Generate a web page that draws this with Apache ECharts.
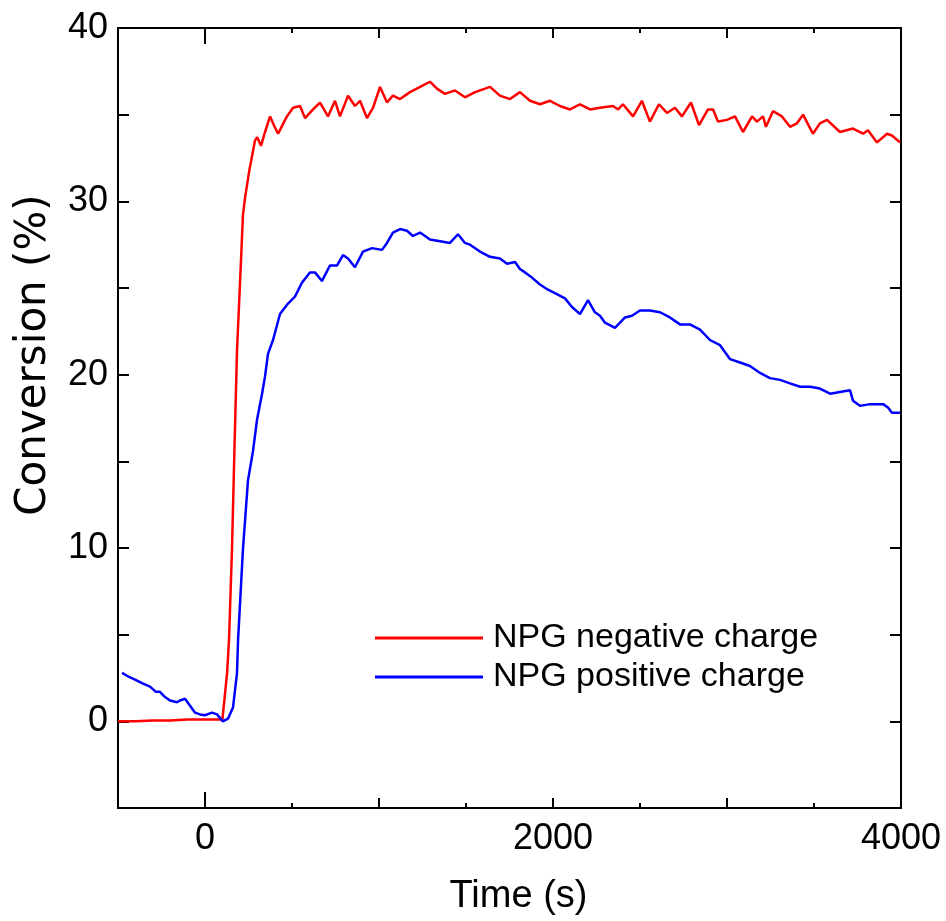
<!DOCTYPE html>
<html>
<head>
<meta charset="utf-8">
<script src="https://cdn.jsdelivr.net/npm/echarts@6/dist/echarts.min.js"></script>
<style>html,body{margin:0;padding:0;background:#fff}#c{width:946px;height:921px}</style>
</head>
<body>
<div id="c"></div>
<script>
const seriesNames = ['NPG negative charge', 'NPG positive charge'];
const xLabelValues = [0, 2000, 4000];
const yLabelValues = [0, 10, 20, 30, 40];

const negTime = [-500,-400,-300,-200,-100,0,100,110,127,138,155,170,184,207,218,230,255,276,287,300,322,345,374,400,420,450,471,506,546,575,621,661,707,747,776,822,862,891,931,966,1006,1046,1080,1121,1178,1236,1293,1333,1379,1437,1494,1552,1638,1695,1753,1810,1868,1925,1983,2040,2098,2155,2213,2270,2345,2374,2402,2460,2511,2557,2609,2655,2701,2741,2793,2839,2891,2920,2948,3000,3046,3092,3144,3172,3207,3224,3264,3316,3362,3402,3437,3494,3534,3575,3649,3724,3782,3810,3862,3920,3948,3994];
const negConv = [0.0,0.0,0.05,0.05,0.1,0.1,0.1,0.15,2.8,4.7,9.9,16,21.4,26.6,29.2,30.2,31.8,32.9,33.5,33.7,33.2,34.0,34.9,34.3,33.9,34.5,34.9,35.4,35.5,34.8,35.3,35.7,34.9,35.8,34.9,36.1,35.5,35.8,34.8,35.4,36.6,35.7,36.1,35.9,36.3,36.6,36.9,36.5,36.2,36.4,36.0,36.3,36.6,36.1,35.9,36.3,35.8,35.6,35.8,35.5,35.3,35.6,35.3,35.4,35.5,35.3,35.6,34.9,35.8,34.6,35.6,35.1,35.4,34.9,35.7,34.4,35.3,35.3,34.6,34.7,34.9,34.0,34.9,34.6,34.9,34.3,35.2,34.9,34.3,34.5,35.0,33.9,34.5,34.7,34.0,34.2,33.9,34.1,33.4,33.9,33.8,33.4];

const posTime = [-477,-443,-402,-362,-316,-282,-259,-230,-201,-161,-144,-115,-86,-57,-29,0,40,69,103,132,161,184,190,218,247,276,299,328,345,362,391,431,477,517,557,603,632,672,718,759,793,822,862,908,960,1017,1046,1080,1121,1161,1195,1236,1293,1351,1408,1454,1494,1523,1580,1638,1695,1736,1782,1810,1839,1879,1925,1971,2011,2069,2109,2155,2184,2201,2241,2270,2299,2356,2414,2454,2500,2557,2615,2672,2730,2787,2845,2902,2960,3017,3075,3132,3190,3247,3305,3362,3420,3477,3534,3592,3649,3707,3724,3764,3822,3897,3925,3948,3994];
const posConv = [2.8,2.6,2.4,2.2,2.0,1.7,1.7,1.4,1.2,1.1,1.2,1.3,0.9,0.5,0.4,0.35,0.5,0.4,0.0,0.15,0.8,2.8,4.7,9.9,13.9,15.6,17.4,18.9,19.9,21.2,22.0,23.5,24.1,24.5,25.3,25.9,25.9,25.4,26.3,26.3,26.9,26.7,26.2,27.1,27.3,27.2,27.6,28.2,28.4,28.3,28.0,28.2,27.8,27.7,27.6,28.1,27.6,27.5,27.1,26.8,26.7,26.4,26.5,26.1,25.9,25.6,25.2,24.9,24.7,24.4,23.9,23.5,24.0,24.3,23.6,23.4,23.0,22.7,23.3,23.4,23.7,23.7,23.6,23.3,22.9,22.9,22.6,22.0,21.7,20.9,20.7,20.5,20.1,19.8,19.7,19.5,19.3,19.3,19.2,18.9,19.0,19.1,18.5,18.2,18.3,18.3,18.1,17.8,17.8];

const FONT = '"Liberation Sans", Arial, sans-serif';
const zip = (a, b) => a.map((v, i) => [v, b[i]]);
const plain = v => String(v);

const chart = echarts.init(document.getElementById('c'));
const lineStyleAxis = { color: '#000', width: 2 };
function xAx(pos, ticks, len, labels, name) {
  return {
    type: 'value', position: pos, min: -500, max: 4000, interval: 500,
    axisLine: { show: true, onZero: false, lineStyle: lineStyleAxis },
    axisTick: { show: true, inside: true, length: len, customValues: ticks, lineStyle: { color: '#000', width: 2 } },
    axisLabel: labels ? { show: true, customValues: labels, formatter: plain, fontSize: 36, color: '#000', fontFamily: FONT, margin: 13 } : { show: false },
    splitLine: { show: false },
    name: name || '', nameLocation: 'middle', nameGap: 70,
    nameTextStyle: { fontSize: 38, color: '#000', fontFamily: FONT, padding: [0, 0, 0, 18] }
  };
}
function yAx(pos, labels, name) {
  return {
    type: 'value', position: pos, min: -5, max: 40, interval: 5,
    axisLine: { show: true, onZero: false, lineStyle: lineStyleAxis },
    axisTick: { show: true, inside: true, length: 11, lineStyle: { color: '#000', width: 2 } },
    axisLabel: labels ? { show: true, customValues: labels, formatter: plain, fontSize: 36, color: '#000', fontFamily: FONT, margin: 10 } : { show: false },
    splitLine: { show: false },
    name: name || '', nameLocation: 'middle', nameGap: 63, nameRotate: 90,
    nameTextStyle: { fontSize: 42, color: '#000', fontFamily: '"DejaVu Sans", sans-serif', padding: [0, 0, 0, 126] }
  };
}

chart.setOption({
  backgroundColor: '#fff',
  animation: false,
  grid: { left: 118, right: 45, top: 28, bottom: 113, containLabel: false, outerBoundsMode: 'none' },
  xAxis: [
    xAx('bottom', [1000, 2000, 3000], 10, xLabelValues, 'Time (s)'),
    xAx('bottom', [500, 1500, 2500, 3500], 5),
    xAx('bottom', [0], 16),
    xAx('top', [1000, 2000, 3000], 10),
    xAx('top', [500, 1500, 2500, 3500], 5),
    xAx('top', [0], 16)
  ],
  yAxis: [
    yAx('left', yLabelValues, 'Conversion (%)'),
    yAx('right')
  ],
  legend: {
    orient: 'vertical', left: 370, top: 616, itemWidth: 108, itemHeight: 3, itemGap: 5,
    icon: 'rect',
    textStyle: { fontSize: 34, color: '#000', fontFamily: FONT, lineHeight: 34, padding: [0, 0, 0, 5] },
    data: seriesNames
  },
  series: [
    { name: seriesNames[0], type: 'line', xAxisIndex: 0, yAxisIndex: 0, data: zip(negTime, negConv), showSymbol: false, symbol: 'none', lineStyle: { color: '#ff0000', width: 2.5 }, itemStyle: { color: '#ff0000' } },
    { name: seriesNames[1], type: 'line', xAxisIndex: 0, yAxisIndex: 0, data: zip(posTime, posConv), showSymbol: false, symbol: 'none', lineStyle: { color: '#0000ff', width: 2.5 }, itemStyle: { color: '#0000ff' } }
  ]
});
</script>
</body>
</html>
